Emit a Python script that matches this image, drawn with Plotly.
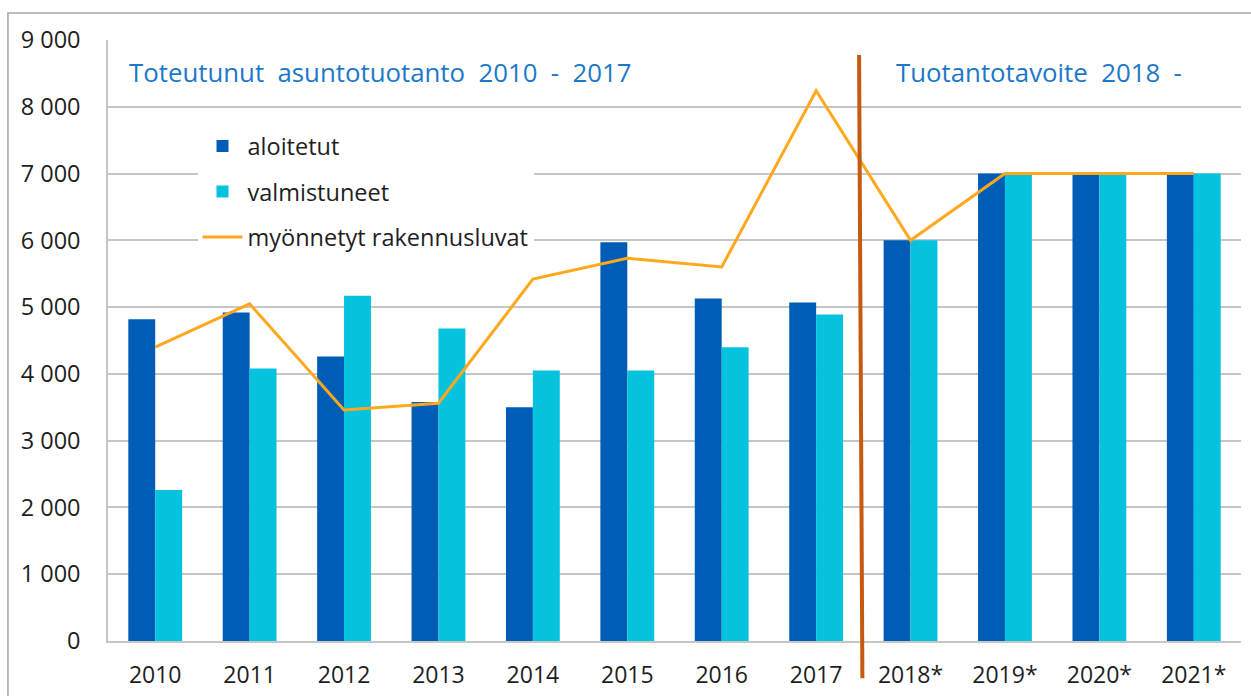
import plotly.graph_objects as go

years = ["2010", "2011", "2012", "2013", "2014", "2015", "2016", "2017",
         "2018*", "2019*", "2020*", "2021*"]
aloitetut = [4820, 4920, 4260, 3580, 3500, 5970, 5130, 5070, 6000, 7000, 7000, 7000]
valmistuneet = [2260, 4080, 5170, 4680, 4050, 4050, 4400, 4890, 6000, 7000, 7000, 7000]
luvat = [4400, 5050, 3460, 3560, 5420, 5730, 5600, 8240, 6000, 7000, 7000, 7000]
y_ticks = [0, 1000, 2000, 3000, 4000, 5000, 6000, 7000, 8000, 9000]

FONT = "Open Sans"
DARK = "#005DB5"
LIGHT = "#05C3DE"
ORANGE = "#FFA81E"
BLUE_TXT = "#1C78C8"
TXT = "#1E1E1E"

fig = go.Figure()
fig.add_trace(go.Bar(x=years, y=aloitetut, name="aloitetut", marker_color=DARK,
                     marker_line_width=0, legendgroup="a"))
fig.add_trace(go.Bar(x=years, y=valmistuneet, name="valmistuneet", marker_color=LIGHT,
                     marker_line_width=0, legendgroup="b"))
fig.add_trace(go.Scatter(x=years, y=luvat, name="myönnetyt rakennusluvat", mode="lines",
                         line=dict(color=ORANGE, width=3), legendgroup="c"))

fig.update_layout(
    width=1251, height=696,
    margin=dict(l=108, r=10, t=40, b=55, autoexpand=False),
    paper_bgcolor="white", plot_bgcolor="white",
    barmode="group", bargap=0.43, bargroupgap=0,
    separators=", ",
    font=dict(family=FONT, size=21, color=TXT),
    legend=dict(x=0.079, y=0.86, xanchor="left", yanchor="top",
                bgcolor="white", borderwidth=0,
                font=dict(family=FONT, size=23.5, color=TXT),
                tracegroupgap=12, traceorder="grouped", itemwidth=40),
    showlegend=True,
)
fig.update_yaxes(range=[0, 9000], tickvals=y_ticks, tickformat=",d",
                 showgrid=True, gridcolor="#C6C6C6", gridwidth=1.5,
                 showline=True, linecolor="#C6C6C6", linewidth=1.5,
                 zeroline=False, ticks="", ticklabelstandoff=21, automargin=False,
                 tickfont=dict(family=FONT, size=23.5, color=TXT))
fig.update_xaxes(showgrid=False, showline=True, linecolor="#C6C6C6", linewidth=1.5,
                 ticks="", ticklabelstandoff=13, automargin=False,
                 tickfont=dict(family=FONT, size=23, color=TXT))

# divider between realised and target years
fig.add_shape(type="line", xref="x", yref="paper", x0=7.49, x1=7.455,
              y0=-0.062, y1=0.975, line=dict(color="#C55A11", width=4))
# outer frame
fig.add_shape(type="rect", xref="paper", yref="paper", x0=-0.0883, x1=1.2,
              y0=-0.3, y1=1.045, line=dict(color="#A6A6A6", width=1.5),
              fillcolor="rgba(0,0,0,0)", layer="below")

fig.add_annotation(xref="paper", yref="paper", x=0.017, y=0.946, xanchor="left",
                   yanchor="middle", showarrow=False,
                   text="Toteutunut\u00a0 asuntotuotanto\u00a0 2010\u00a0 -\u00a0 2017",
                   font=dict(family=FONT, size=25.8, color=BLUE_TXT))
fig.add_annotation(xref="paper", yref="paper", x=0.694, y=0.946, xanchor="left",
                   yanchor="middle", showarrow=False,
                   text="Tuotantotavoite\u00a0 2018\u00a0 -",
                   font=dict(family=FONT, size=25.8, color=BLUE_TXT))

fig.write_html("out.html")
